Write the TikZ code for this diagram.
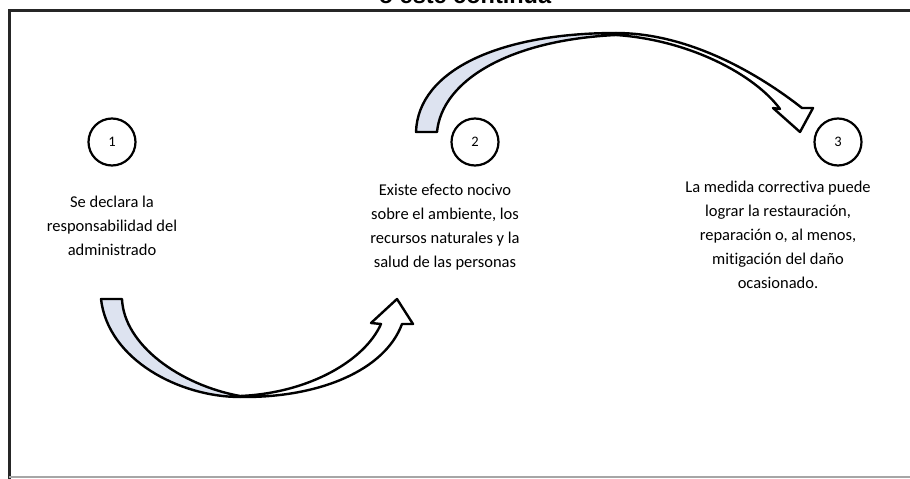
\documentclass[tikz,border=0pt]{standalone}
\usepackage{fontspec}
\setmainfont[Ligatures=NoCommon]{Carlito}
\newfontfamily\headfont{Liberation Sans}
\definecolor{backblue}{RGB}{221,227,240}

\begin{document}
\begin{tikzpicture}[x=1pt,y=-1pt,
		num/.style={draw,circle,line width=2.2pt,minimum size=47pt,inner sep=0pt,font=\fontsize{14.5}{16}\selectfont},
		txt/.style={anchor=north,align=center,inner sep=0pt,font=\fontsize{16.5}{24}\selectfont},
		band/.style={draw,line width=2.4pt,line join=round}]
		\useasboundingbox (0,0) rectangle (910,479);
		\clip (0,0) rectangle (910,479);
		\node (H) at (465,3) [anchor=base,font=\headfont\bfseries\fontsize{23.5}{26}\selectfont] {o este continúa};
		\draw[line width=3pt,black!85] (910,10) -- (9,10) -- (9,479);
		\draw[line width=1.5pt,black!35] (9,477) -- (910,477);
		\node[num] (n1) at (112,142) {1};
		\node[num] (n2) at (475,142) {2};
		\node[num] (n3) at (838,142) {3};
		\node[txt] (t1) at (112,196) {Se declara la\\responsabilidad del\\administrado};
		\node[txt] (t2) at (445,184) {Existe efecto nocivo\\sobre el ambiente, los\\recursos naturales y la\\salud de las personas};
		\node[txt] (t3) at (778,180.5) {La medida correctiva puede\\lograr la restauración,\\reparación o, al menos,\\mitigación del daño\\ocasionado.};
		\filldraw[band,fill=backblue] (101,299) -- (122,299) .. controls (124,345) and (180,385) .. (240,396) -- (240,397) .. controls (180,397) and (108,360) .. (101,299) -- cycle;
		\filldraw[band,fill=white] (240,396) .. controls (310,393) and (365,360) .. (381,324) -- (371,323) -- (397,299) -- (413,324) -- (402,324) .. controls (385,370) and (320,398) .. (240,397) -- cycle;
		\filldraw[band,fill=backblue] (416,132) -- (437,132) .. controls (442,80) and (510,40) .. (616,35) -- (616,33) .. controls (500,33) and (418,70) .. (416,132) -- cycle;
		\filldraw[band,fill=white] (616,33) .. controls (690,33) and (760,75) .. (802,108) -- (813,108) -- (800,132) -- (773,108) -- (780,109) .. controls (755,75) and (690,40) .. (616,35) -- cycle;
	\end{tikzpicture}
\end{document}
